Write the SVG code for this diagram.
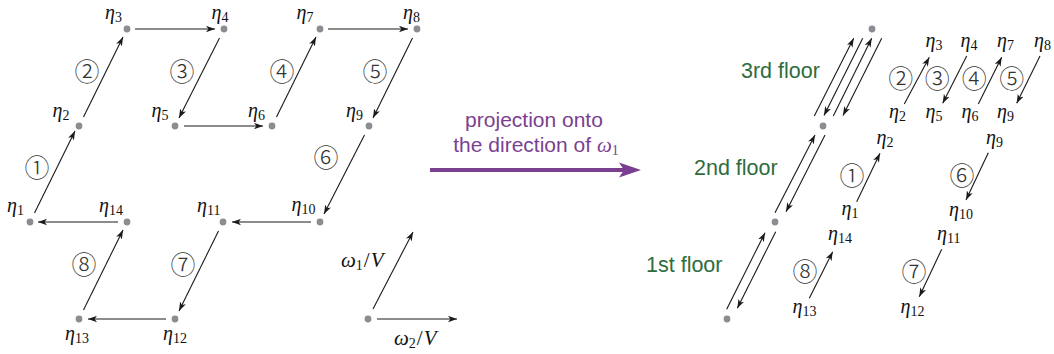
<svg xmlns="http://www.w3.org/2000/svg" width="1054" height="354" viewBox="0 0 1054 354">
<style>
.dot{fill:#8c8d92}
.ln{stroke:#1a1a1a;stroke-width:1.1;fill:none;marker-end:url(#ah)}
.eta{font-family:"Liberation Serif",serif;font-size:20px;fill:#111}
.eta .g{font-style:italic}
.eta .s{font-size:14px}
.om{font-size:21px}
.cn{font-family:"Noto Sans CJK JP","DejaVu Sans",sans-serif;font-size:25px;font-weight:300;fill:#333;text-anchor:middle;dominant-baseline:central}
.fl{font-family:"Liberation Sans",Arial,sans-serif;font-size:21.5px;fill:#2e6d3d}
.pj{font-family:"Liberation Sans",Arial,sans-serif;font-size:21px;fill:#7b3f91;text-anchor:middle}
</style>
<defs>
<marker id="ah" markerUnits="userSpaceOnUse" markerWidth="9" markerHeight="7" viewBox="0 0 9 7" refX="9" refY="3.5" orient="auto">
<path d="M0,0.3 L9,3.5 L0,6.7 L2.4,3.5 z" fill="#1a1a1a"/>
</marker>
</defs>

<g id="connectors">
<line class="ln" x1="34.5" y1="213" x2="75" y2="131"/>
<line class="ln" x1="83.5" y1="117" x2="123" y2="37"/>
<line class="ln" x1="219.5" y1="38" x2="179" y2="118"/>
<line class="ln" x1="276.5" y1="117" x2="316" y2="37"/>
<line class="ln" x1="412.5" y1="38" x2="373" y2="118"/>
<line class="ln" x1="364.5" y1="135" x2="324" y2="214"/>
<line class="ln" x1="218.5" y1="231" x2="179" y2="311"/>
<line class="ln" x1="83.5" y1="310" x2="123" y2="230"/>
<line class="ln" x1="135" y1="29" x2="215" y2="29"/>
<line class="ln" x1="184" y1="126" x2="263" y2="126"/>
<line class="ln" x1="328" y1="29" x2="408" y2="29"/>
<line class="ln" x1="311" y1="222" x2="232" y2="222"/>
<line class="ln" x1="166" y1="319" x2="88" y2="319"/>
<line class="ln" x1="118" y1="222" x2="38" y2="222"/>
<line class="ln" x1="373" y1="309" x2="413" y2="232"/>
<line class="ln" x1="377" y1="319" x2="457" y2="319"/>
<line x1="430" y1="170" x2="626" y2="170" stroke="#7b3f91" stroke-width="4"/>
<path d="M641,170 L619,162.5 L624,170 L619,177.5 z" fill="#7b3f91"/>
<line class="ln" x1="814.3" y1="116" x2="853.7" y2="38.3"/>
<line class="ln" x1="862.7" y1="38.3" x2="824" y2="115.5"/>
<line class="ln" x1="833.3" y1="116" x2="871.7" y2="38.3"/>
<line class="ln" x1="881.7" y1="38.3" x2="843" y2="115.5"/>
<line class="ln" x1="775" y1="212.7" x2="815" y2="135"/>
<line class="ln" x1="825" y1="135" x2="786" y2="211.7"/>
<line class="ln" x1="726.7" y1="309.3" x2="765" y2="232.7"/>
<line class="ln" x1="775.7" y1="231.7" x2="737.3" y2="308.3"/>
<line class="ln" x1="904.3" y1="104" x2="929.3" y2="57.3"/>
<line class="ln" x1="966.7" y1="56" x2="942.7" y2="103.3"/>
<line class="ln" x1="978.3" y1="104" x2="1001.7" y2="57.3"/>
<line class="ln" x1="1040" y1="56" x2="1016.7" y2="103.3"/>
<line class="ln" x1="856.7" y1="201.7" x2="880" y2="153.3"/>
<line class="ln" x1="988.3" y1="152.7" x2="966" y2="200"/>
<line class="ln" x1="809.3" y1="298.3" x2="832.7" y2="251.7"/>
<line class="ln" x1="941.7" y1="249.3" x2="919.3" y2="296.7"/>
</g>

<g id="left-nodes">
<g id="n1"><circle class="dot" cx="30" cy="222" r="3.4"/><text class="eta" x="7" y="212"><tspan class="g">η</tspan><tspan class="s" dy="3">1</tspan></text></g>
<g id="n2"><circle class="dot" cx="79" cy="126" r="3.4"/><text class="eta" x="52.5" y="117"><tspan class="g">η</tspan><tspan class="s" dy="3">2</tspan></text></g>
<g id="n3"><circle class="dot" cx="127" cy="29" r="3.4"/><text class="eta" x="105" y="18.5"><tspan class="g">η</tspan><tspan class="s" dy="3">3</tspan></text></g>
<g id="n4"><circle class="dot" cx="224" cy="29" r="3.4"/><text class="eta" x="211.5" y="18.5"><tspan class="g">η</tspan><tspan class="s" dy="3">4</tspan></text></g>
<g id="n5"><circle class="dot" cx="175" cy="126" r="3.4"/><text class="eta" x="151.5" y="117"><tspan class="g">η</tspan><tspan class="s" dy="3">5</tspan></text></g>
<g id="n6"><circle class="dot" cx="272" cy="126" r="3.4"/><text class="eta" x="248" y="117"><tspan class="g">η</tspan><tspan class="s" dy="3">6</tspan></text></g>
<g id="n7"><circle class="dot" cx="320" cy="29" r="3.4"/><text class="eta" x="296.5" y="18.5"><tspan class="g">η</tspan><tspan class="s" dy="3">7</tspan></text></g>
<g id="n8"><circle class="dot" cx="417" cy="29" r="3.4"/><text class="eta" x="403" y="18.5"><tspan class="g">η</tspan><tspan class="s" dy="3">8</tspan></text></g>
<g id="n9"><circle class="dot" cx="369" cy="126" r="3.4"/><text class="eta" x="346" y="117"><tspan class="g">η</tspan><tspan class="s" dy="3">9</tspan></text></g>
<g id="n10"><circle class="dot" cx="320" cy="222" r="3.4"/><text class="eta" x="291.5" y="211"><tspan class="g">η</tspan><tspan class="s" dy="3">10</tspan></text></g>
<g id="n11"><circle class="dot" cx="223" cy="222" r="3.4"/><text class="eta" x="197" y="212"><tspan class="g">η</tspan><tspan class="s" dy="3">11</tspan></text></g>
<g id="n12"><circle class="dot" cx="175" cy="319" r="3.4"/><text class="eta" x="163" y="340"><tspan class="g">η</tspan><tspan class="s" dy="3">12</tspan></text></g>
<g id="n13"><circle class="dot" cx="79" cy="319" r="3.4"/><text class="eta" x="65" y="340"><tspan class="g">η</tspan><tspan class="s" dy="3">13</tspan></text></g>
<g id="n14"><circle class="dot" cx="127" cy="222" r="3.4"/><text class="eta" x="99" y="212"><tspan class="g">η</tspan><tspan class="s" dy="3">14</tspan></text></g>
<g id="origin"><circle class="dot" cx="368" cy="319" r="3.4"/></g>
<text class="eta om" x="341" y="267"><tspan class="g">ω</tspan><tspan class="s" dy="3">1</tspan><tspan dy="-3" dx="1">/</tspan><tspan class="g" dx="1">V</tspan></text>
<text class="eta om" x="394" y="345"><tspan class="g">ω</tspan><tspan class="s" dy="3">2</tspan><tspan dy="-3" dx="1">/</tspan><tspan class="g" dx="1">V</tspan></text>
<text class="cn" x="37" y="166">①</text>
<text class="cn" x="87" y="70">②</text>
<text class="cn" x="182" y="70">③</text>
<text class="cn" x="282" y="70">④</text>
<text class="cn" x="375" y="70">⑤</text>
<text class="cn" x="326" y="156">⑥</text>
<text class="cn" x="183" y="263">⑦</text>
<text class="cn" x="84" y="263">⑧</text>
</g>

<g id="projection-label">
<text class="pj" x="534" y="127">projection onto</text>
<text class="pj" x="536" y="152">the direction of <tspan font-family="Liberation Serif,serif" font-style="italic">ω</tspan><tspan font-family="Liberation Serif,serif" font-size="14" dy="3">1</tspan></text>
</g>

<g id="right-nodes">
<circle class="dot" cx="727" cy="319" r="3.4"/>
<circle class="dot" cx="775" cy="222" r="3.4"/>
<circle class="dot" cx="823" cy="126" r="3.4"/>
<circle class="dot" cx="872" cy="29" r="3.4"/>
<text class="fl" x="741" y="78">3rd floor</text>
<text class="fl" x="694" y="175">2nd floor</text>
<text class="fl" x="646" y="272">1st floor</text>
<text class="eta" x="925.5" y="47"><tspan class="g">η</tspan><tspan class="s" dy="3">3</tspan></text>
<text class="eta" x="960.5" y="47"><tspan class="g">η</tspan><tspan class="s" dy="3">4</tspan></text>
<text class="eta" x="997" y="47"><tspan class="g">η</tspan><tspan class="s" dy="3">7</tspan></text>
<text class="eta" x="1034" y="47"><tspan class="g">η</tspan><tspan class="s" dy="3">8</tspan></text>
<text class="eta" x="889" y="118"><tspan class="g">η</tspan><tspan class="s" dy="3">2</tspan></text>
<text class="eta" x="925.5" y="118"><tspan class="g">η</tspan><tspan class="s" dy="3">5</tspan></text>
<text class="eta" x="961.5" y="118"><tspan class="g">η</tspan><tspan class="s" dy="3">6</tspan></text>
<text class="eta" x="997" y="118"><tspan class="g">η</tspan><tspan class="s" dy="3">9</tspan></text>
<text class="eta" x="876.5" y="144"><tspan class="g">η</tspan><tspan class="s" dy="3">2</tspan></text>
<text class="eta" x="986" y="144"><tspan class="g">η</tspan><tspan class="s" dy="3">9</tspan></text>
<text class="eta" x="841.5" y="215"><tspan class="g">η</tspan><tspan class="s" dy="3">1</tspan></text>
<text class="eta" x="949" y="216"><tspan class="g">η</tspan><tspan class="s" dy="3">10</tspan></text>
<text class="eta" x="828" y="240"><tspan class="g">η</tspan><tspan class="s" dy="3">14</tspan></text>
<text class="eta" x="937" y="240"><tspan class="g">η</tspan><tspan class="s" dy="3">11</tspan></text>
<text class="eta" x="792.5" y="313"><tspan class="g">η</tspan><tspan class="s" dy="3">13</tspan></text>
<text class="eta" x="900.5" y="313"><tspan class="g">η</tspan><tspan class="s" dy="3">12</tspan></text>
<text class="cn" x="900.7" y="77.3">②</text>
<text class="cn" x="937.3" y="77.3">③</text>
<text class="cn" x="974.3" y="77.3">④</text>
<text class="cn" x="1011.7" y="77.3">⑤</text>
<text class="cn" x="852" y="174">①</text>
<text class="cn" x="962" y="174">⑥</text>
<text class="cn" x="805" y="270">⑧</text>
<text class="cn" x="914" y="270">⑦</text>
</g>
</svg>
